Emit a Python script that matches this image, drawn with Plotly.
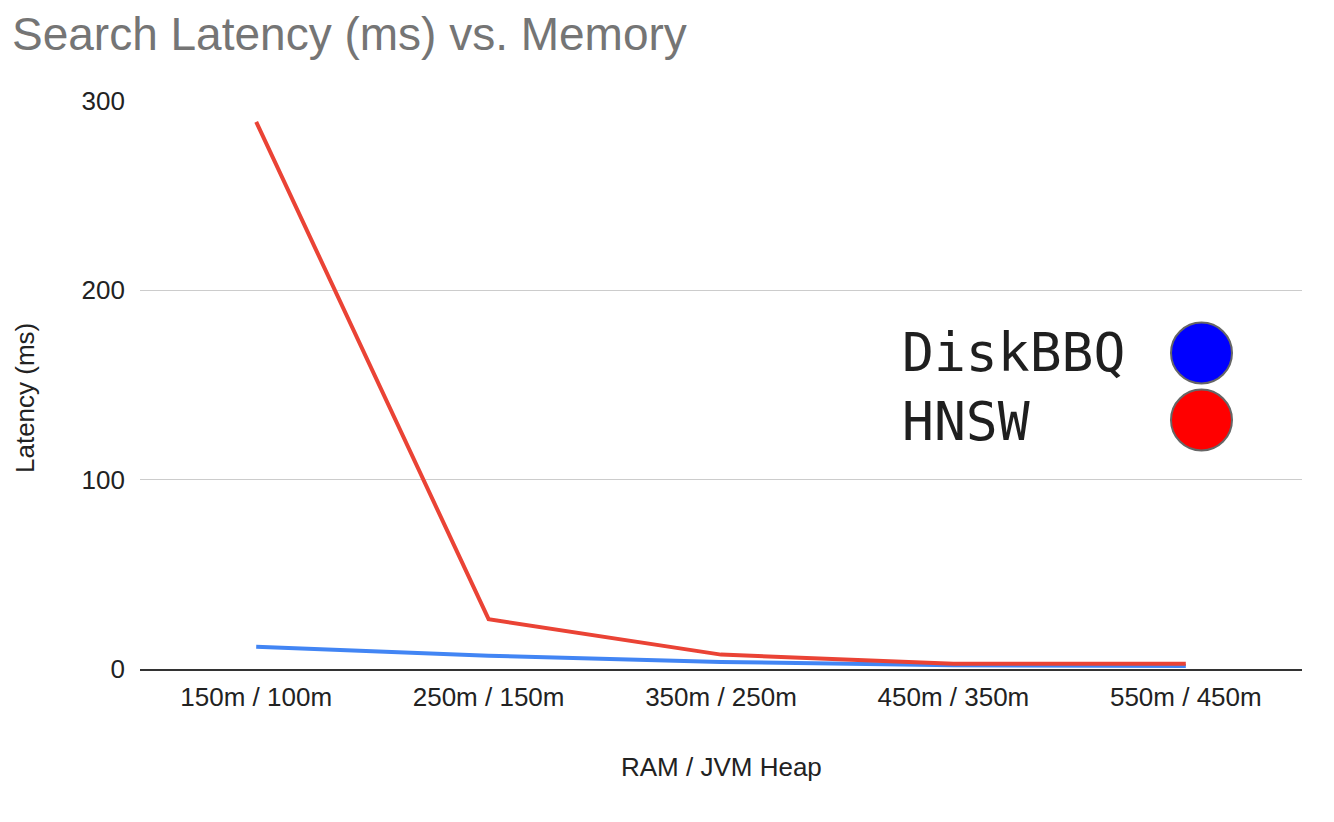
import plotly.graph_objects as go

categories = ["150m / 100m", "250m / 150m", "350m / 250m", "450m / 350m", "550m / 450m"]
diskbbq = [11.8, 7.0, 3.7, 2.0, 1.6]
hnsw = [289, 26.3, 7.6, 2.8, 2.8]
y_ticks = [0, 100, 200, 300]

legend_names = ["DiskBBQ", "HNSW"]
legend_colors = ["#0000FF", "#FF0000"]

W, H = 1334, 822
L, R, T, B = 140, 32, 101, 153
PW, PH = W - L - R, H - T - B

def px_x(p):
    return (p - L) / PW

def px_y(p):
    return (H - B - p) / PH

fig = go.Figure()
fig.add_trace(go.Scatter(x=categories, y=diskbbq, mode="lines", name="DiskBBQ",
                         line=dict(color="#4285F4", width=4), showlegend=False))
fig.add_trace(go.Scatter(x=categories, y=hnsw, mode="lines", name="HNSW",
                         line=dict(color="#EA4335", width=4), showlegend=False))

font_main = "Liberation Sans, Arial, sans-serif"

annotations = [
    dict(text="RAM / JVM Heap", x=0.5, y=px_y(767), xref="paper", yref="paper",
         xanchor="center", yanchor="middle", showarrow=False,
         font=dict(family=font_main, size=26, color="#222222")),
    dict(text="Latency (ms)", x=px_x(25), y=px_y(398), xref="paper", yref="paper",
         xanchor="center", yanchor="middle", showarrow=False, textangle=-90,
         font=dict(family=font_main, size=26, color="#222222")),
]
shapes = []
legend_centers = [353, 420]
legend_text_y = [352.5, 421.5]
for name, col, cy, ty in zip(legend_names, legend_colors, legend_centers, legend_text_y):
    annotations.append(dict(text=name, x=px_x(900), y=px_y(ty), xref="paper", yref="paper",
                            xanchor="left", yanchor="middle", showarrow=False,
                            font=dict(family="DejaVu Sans Mono, monospace", size=53, color="#1f1f1f")))
    shapes.append(dict(type="circle", xref="paper", yref="paper",
                       xsizemode="pixel", ysizemode="pixel",
                       xanchor=px_x(1201.5), yanchor=px_y(cy),
                       x0=-30.5, x1=30.5, y0=-30.5, y1=30.5,
                       fillcolor=col, line=dict(color="#666666", width=2)))

fig.update_layout(
    width=W, height=H,
    margin=dict(l=L, r=R, t=T, b=B),
    paper_bgcolor="white", plot_bgcolor="white",
    title=dict(text="Search Latency (ms) vs. Memory", x=12 / W, xanchor="left",
               xref="container", yref="container", y=1 - 34 / H, yanchor="middle",
               font=dict(family=font_main, size=46, color="#757575")),
    xaxis=dict(type="category", range=[-0.5, 4.5], showgrid=False,
               showline=True, linecolor="#333333", linewidth=2,
               ticks="", ticklabelstandoff=4,
               tickfont=dict(family=font_main, size=26, color="#222222")),
    yaxis=dict(range=[0, 300], tickvals=y_ticks, showgrid=True, gridcolor="#cccccc",
               gridwidth=1, zeroline=False, showline=False, ticks="",
               ticklabelstandoff=14,
               tickfont=dict(family=font_main, size=26, color="#222222")),
    annotations=annotations,
    shapes=shapes,
)

fig.write_html("out.html", config={"displayModeBar": False},
               post_script="document.body.style.margin='0';")
